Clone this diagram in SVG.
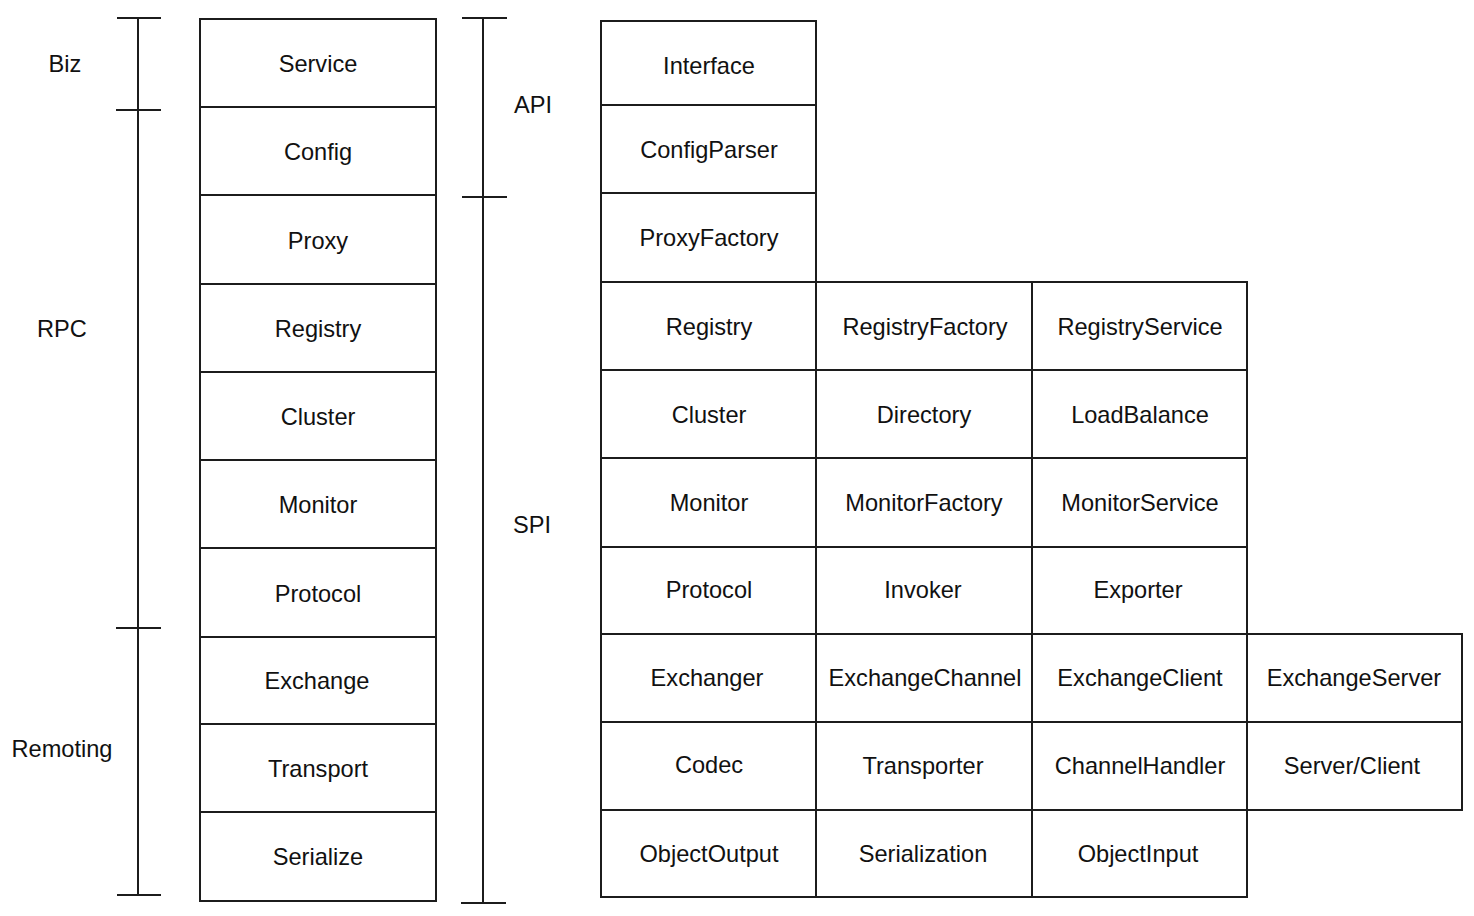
<svg xmlns="http://www.w3.org/2000/svg" width="1474" height="916" viewBox="0 0 1474 916">
<style>
.c{fill:#fff;stroke:#1c1c1c;stroke-width:2}
.b{stroke:#1c1c1c;stroke-width:2;fill:none}
text{font-family:"Liberation Sans",Arial,sans-serif;font-size:23.6px;fill:#111;text-anchor:middle}
</style>
<rect width="1474" height="916" fill="#fff"/>
<g id="brackets">
<path class="b" d="M138 18V895M117 18H161M116 110H161M116 628H161M117 895H161"/>
<path class="b" d="M483 18V903M462 18H507M462 197H507M461 903H506"/>
</g>
<g id="layer-labels">
<text x="65" y="72">Biz</text>
<text x="62" y="337">RPC</text>
<text x="62" y="757">Remoting</text>
<text x="533" y="113">API</text>
<text x="532" y="533">SPI</text>
</g>
<g id="left-column">
<g id="l-service"><rect class="c" x="200" y="19" width="236" height="88"/><text x="318" y="72">Service</text></g>
<g id="l-config"><rect class="c" x="200" y="107" width="236" height="88"/><text x="318" y="160">Config</text></g>
<g id="l-proxy"><rect class="c" x="200" y="195" width="236" height="89"/><text x="318" y="249">Proxy</text></g>
<g id="l-registry"><rect class="c" x="200" y="284" width="236" height="88"/><text x="318" y="337">Registry</text></g>
<g id="l-cluster"><rect class="c" x="200" y="372" width="236" height="88"/><text x="318" y="425">Cluster</text></g>
<g id="l-monitor"><rect class="c" x="200" y="460" width="236" height="88"/><text x="318" y="513">Monitor</text></g>
<g id="l-protocol"><rect class="c" x="200" y="548" width="236" height="89"/><text x="318" y="602">Protocol</text></g>
<g id="l-exchange"><rect class="c" x="200" y="637" width="236" height="87"/><text x="317" y="689">Exchange</text></g>
<g id="l-transport"><rect class="c" x="200" y="724" width="236" height="88"/><text x="318" y="777">Transport</text></g>
<g id="l-serialize"><rect class="c" x="200" y="812" width="236" height="89"/><text x="318" y="865">Serialize</text></g>
</g>
<g id="right-grid">
<g id="r-interface"><rect class="c" x="601" y="21" width="215" height="84"/><text x="709" y="74">Interface</text></g>
<g id="r-configparser"><rect class="c" x="601" y="105" width="215" height="88"/><text x="709" y="158">ConfigParser</text></g>
<g id="r-proxyfactory"><rect class="c" x="601" y="193" width="215" height="89"/><text x="709" y="246">ProxyFactory</text></g>
<g id="r-registry"><rect class="c" x="601" y="282" width="215" height="88"/><text x="709" y="335">Registry</text></g>
<g id="r-registryfactory"><rect class="c" x="816" y="282" width="216" height="88"/><text x="925" y="335">RegistryFactory</text></g>
<g id="r-registryservice"><rect class="c" x="1032" y="282" width="215" height="88"/><text x="1140" y="335">RegistryService</text></g>
<g id="r-cluster"><rect class="c" x="601" y="370" width="215" height="88"/><text x="709" y="423">Cluster</text></g>
<g id="r-directory"><rect class="c" x="816" y="370" width="216" height="88"/><text x="924" y="423">Directory</text></g>
<g id="r-loadbalance"><rect class="c" x="1032" y="370" width="215" height="88"/><text x="1140" y="423">LoadBalance</text></g>
<g id="r-monitor"><rect class="c" x="601" y="458" width="215" height="89"/><text x="709" y="511">Monitor</text></g>
<g id="r-monitorfactory"><rect class="c" x="816" y="458" width="216" height="89"/><text x="924" y="511">MonitorFactory</text></g>
<g id="r-monitorservice"><rect class="c" x="1032" y="458" width="215" height="89"/><text x="1140" y="511">MonitorService</text></g>
<g id="r-protocol"><rect class="c" x="601" y="547" width="215" height="87"/><text x="709" y="598">Protocol</text></g>
<g id="r-invoker"><rect class="c" x="816" y="547" width="216" height="87"/><text x="923" y="598">Invoker</text></g>
<g id="r-exporter"><rect class="c" x="1032" y="547" width="215" height="87"/><text x="1138" y="598">Exporter</text></g>
<g id="r-exchanger"><rect class="c" x="601" y="634" width="215" height="88"/><text x="707" y="686">Exchanger</text></g>
<g id="r-exchangechannel"><rect class="c" x="816" y="634" width="216" height="88"/><text x="925" y="686">ExchangeChannel</text></g>
<g id="r-exchangeclient"><rect class="c" x="1032" y="634" width="215" height="88"/><text x="1140" y="686">ExchangeClient</text></g>
<g id="r-exchangeserver"><rect class="c" x="1247" y="634" width="215" height="88"/><text x="1354" y="686">ExchangeServer</text></g>
<g id="r-codec"><rect class="c" x="601" y="722" width="215" height="88"/><text x="709" y="773">Codec</text></g>
<g id="r-transporter"><rect class="c" x="816" y="722" width="216" height="88"/><text x="923" y="774">Transporter</text></g>
<g id="r-channelhandler"><rect class="c" x="1032" y="722" width="215" height="88"/><text x="1140" y="774">ChannelHandler</text></g>
<g id="r-serverclient"><rect class="c" x="1247" y="722" width="215" height="88"/><text x="1352" y="774">Server/Client</text></g>
<g id="r-objectoutput"><rect class="c" x="601" y="810" width="215" height="87"/><text x="709" y="862">ObjectOutput</text></g>
<g id="r-serialization"><rect class="c" x="816" y="810" width="216" height="87"/><text x="923" y="862">Serialization</text></g>
<g id="r-objectinput"><rect class="c" x="1032" y="810" width="215" height="87"/><text x="1138" y="862">ObjectInput</text></g>
</g>
<g id="connectors"/>
</svg>
